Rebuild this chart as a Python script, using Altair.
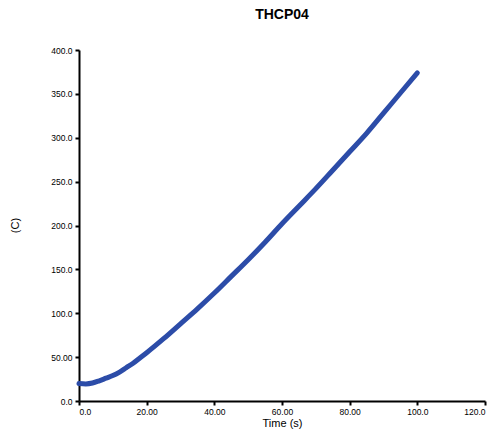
import altair as alt
import pandas as pd

time_s = [0, 2, 4, 6, 8, 10, 12, 14, 16, 18, 20, 25, 30, 35, 40, 45, 50, 55,
          60, 65, 70, 75, 80, 85, 90, 95, 100]
temp_c = [20, 19.5, 20.5, 23, 26, 29, 33, 38, 43, 49, 55, 71, 88, 105, 123,
          142, 161, 181, 202, 222, 242, 263, 284, 305, 328, 351, 374]

x_ticks = [0, 20, 40, 60, 80, 100, 120]
y_ticks = [0, 50, 100, 150, 200, 250, 300, 350, 400]

df = pd.DataFrame({"t": time_s, "T": temp_c})

fmt = "datum.value == 0 ? '0.0' : (datum.value < 100 ? format(datum.value, '.2f') : format(datum.value, '.1f'))"

axis_common = dict(
    grid=False,
    domainColor="black",
    domainWidth=2,
    tickColor="black",
    tickWidth=2,
    tickSize=4,
    labelFont="Liberation Sans",
    labelFontSize=8.5,
    labelColor="black",
    titleFont="Liberation Sans",
    titleFontSize=11,
    titleFontWeight="normal",
    titleColor="black",
    labelExpr=fmt,
)

chart = alt.Chart(df).mark_line(
    color="#2c4ca8", strokeWidth=5, strokeCap="round", strokeJoin="round", interpolate="monotone"
).encode(
    x=alt.X("t:Q", scale=alt.Scale(domain=[0, 120], nice=False),
            axis=alt.Axis(values=x_ticks, title="Time (s)", titlePadding=2, labelPadding=2, **axis_common)),
    y=alt.Y("T:Q", scale=alt.Scale(domain=[0, 400], nice=False),
            axis=alt.Axis(values=y_ticks, title="(C)", titleX=-59, titleY=175, labelPadding=3, **axis_common)),
).properties(
    width=406,
    height=351,
    title=alt.TitleParams("THCP04", font="Liberation Sans", fontSize=14, fontWeight="bold",
                          anchor="middle", color="black", offset=24),
    autosize=alt.AutoSizeParams(type="none"),
    padding={"left": 79, "top": 50, "right": 16, "bottom": 33},
    background="white",
).configure_view(stroke=None)

chart.save("out.html", embed_options={"renderer": "svg", "actions": False})
